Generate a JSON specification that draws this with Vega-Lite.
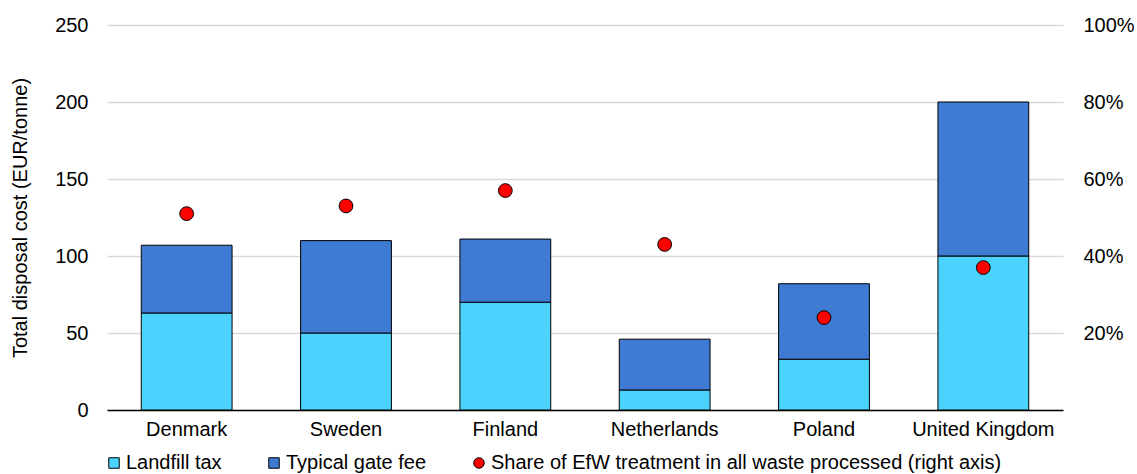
{
  "$schema": "https://vega.github.io/schema/vega-lite/v6.json",
  "width": 956,
  "height": 385,
  "autosize": "none",
  "padding": {"left": 107, "top": 25, "right": 74, "bottom": 64},
  "background": "white",
  "config": {
    "font": "Liberation Sans",
    "view": {"stroke": null},
    "axis": {"labelFont": "Liberation Sans", "titleFont": "Liberation Sans", "labelColor": "#000", "titleColor": "#000"}
  },
  "datasets": {
    "bars": [
      {"country": "Denmark", "series": "Landfill tax", "ord": 1, "value": 63},
      {"country": "Denmark", "series": "Typical gate fee", "ord": 2, "value": 44},
      {"country": "Sweden", "series": "Landfill tax", "ord": 1, "value": 50},
      {"country": "Sweden", "series": "Typical gate fee", "ord": 2, "value": 60},
      {"country": "Finland", "series": "Landfill tax", "ord": 1, "value": 70},
      {"country": "Finland", "series": "Typical gate fee", "ord": 2, "value": 41},
      {"country": "Netherlands", "series": "Landfill tax", "ord": 1, "value": 13},
      {"country": "Netherlands", "series": "Typical gate fee", "ord": 2, "value": 33},
      {"country": "Poland", "series": "Landfill tax", "ord": 1, "value": 33},
      {"country": "Poland", "series": "Typical gate fee", "ord": 2, "value": 49},
      {"country": "United Kingdom", "series": "Landfill tax", "ord": 1, "value": 100},
      {"country": "United Kingdom", "series": "Typical gate fee", "ord": 2, "value": 100}
    ],
    "points": [
      {"country": "Denmark", "series": "Share of EfW treatment in all waste processed (right axis)", "share": 0.51},
      {"country": "Sweden", "series": "Share of EfW treatment in all waste processed (right axis)", "share": 0.53},
      {"country": "Finland", "series": "Share of EfW treatment in all waste processed (right axis)", "share": 0.57},
      {"country": "Netherlands", "series": "Share of EfW treatment in all waste processed (right axis)", "share": 0.43},
      {"country": "Poland", "series": "Share of EfW treatment in all waste processed (right axis)", "share": 0.24},
      {"country": "United Kingdom", "series": "Share of EfW treatment in all waste processed (right axis)", "share": 0.37}
    ]
  },
  "encoding": {
    "x": {
      "field": "country",
      "type": "nominal",
      "sort": null,
      "scale": {"paddingInner": 0.43, "paddingOuter": 0.215},
      "axis": {
        "title": null,
        "labelAngle": 0,
        "labelFontSize": 20,
        "labelPadding": 9,
        "ticks": false,
        "domainColor": "#000",
        "domainWidth": 1.5,
        "grid": false
      }
    }
  },
  "layer": [
    {
      "data": {"name": "bars"},
      "mark": {"type": "bar", "stroke": "#000", "strokeWidth": 1},
      "encoding": {
        "y": {
          "field": "value",
          "type": "quantitative",
          "stack": "zero",
          "scale": {"domain": [0, 250]},
          "axis": {
            "title": "Total disposal cost (EUR/tonne)",
            "titleFontSize": 20,
            "titleFontWeight": "normal",
            "titlePadding": 24,
            "values": [0, 50, 100, 150, 200, 250],
            "labelFontSize": 20,
            "labelPadding": 19,
            "ticks": false,
            "domain": false,
            "grid": true,
            "gridColor": "#d9d9d9",
            "gridWidth": 1.5
          }
        },
        "order": {"field": "ord", "type": "quantitative"},
        "color": {
          "field": "series",
          "type": "nominal",
          "scale": {
            "domain": ["Landfill tax", "Typical gate fee", "Share of EfW treatment in all waste processed (right axis)"],
            "range": ["#4BD3FE", "#3F7AD3", "#FF0000"]
          },
          "legend": {
            "title": null,
            "orient": "none",
            "direction": "horizontal",
            "legendX": -3,
            "legendY": 428,
            "labelFontSize": 20,
            "labelLimit": 0,
            "labelColor": "#000",
            "symbolSize": 110,
            "symbolStrokeColor": "#000",
            "symbolStrokeWidth": 1,
            "labelOffset": 2,
            "columnPadding": 42,
            "symbolOpacity": 1
          }
        }
      }
    },
    {
      "data": {"name": "points"},
      "mark": {"type": "point", "filled": true, "stroke": "#000", "strokeWidth": 1, "size": 190, "opacity": 1},
      "encoding": {
        "y": {
          "field": "share",
          "type": "quantitative",
          "scale": {"domain": [0, 1]},
          "axis": {
            "orient": "right",
            "title": null,
            "format": ".0%",
            "values": [0.2, 0.4, 0.6, 0.8, 1],
            "labelFontSize": 20,
            "labelPadding": 20,
            "ticks": false,
            "domain": false,
            "grid": false
          }
        },
        "color": {"field": "series", "type": "nominal"},
        "shape": {
          "field": "series",
          "type": "nominal",
          "scale": {
            "domain": ["Landfill tax", "Typical gate fee", "Share of EfW treatment in all waste processed (right axis)"],
            "range": ["square", "square", "circle"]
          },
          "legend": null
        }
      }
    }
  ],
  "resolve": {"scale": {"y": "independent"}}
}
